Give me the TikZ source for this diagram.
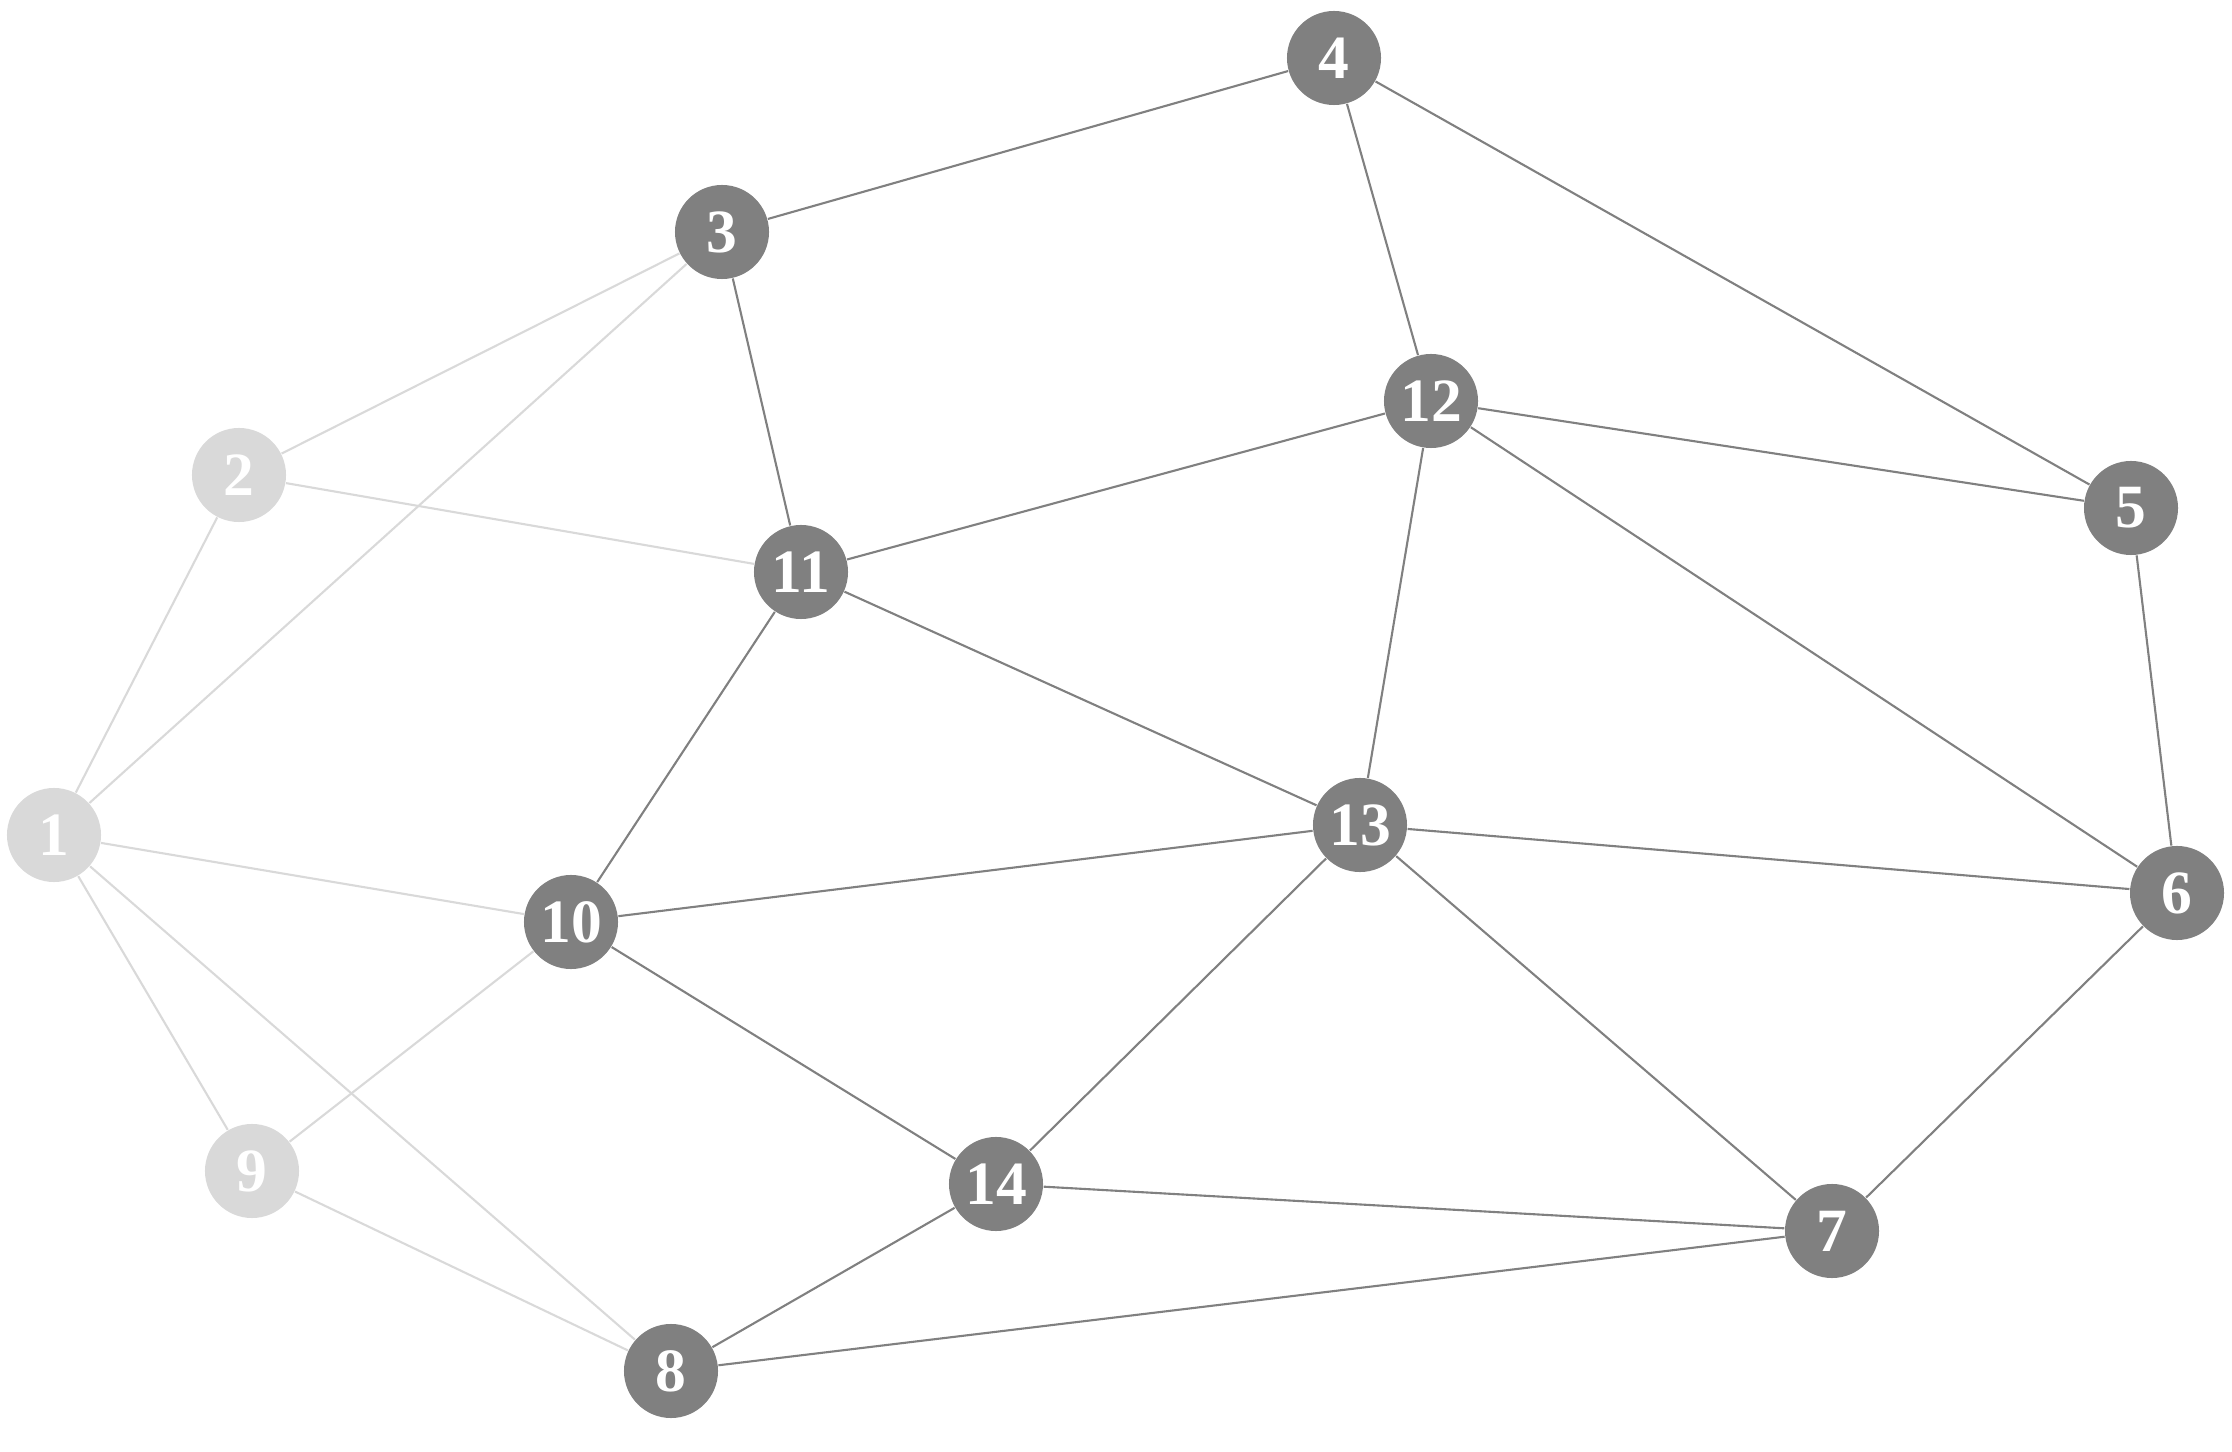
\documentclass[tikz,border=0pt]{standalone}
\usepackage{fontspec}
\setmainfont{Liberation Serif}
\definecolor{darknode}{HTML}{808080}
\definecolor{lightnode}{HTML}{D9D9D9}
\tikzset{
  vdark/.style={circle, fill=darknode, draw=none, minimum size=0.94cm, inner sep=0pt, text=white, font=\fontsize{17.5}{17.5}\selectfont\bfseries},
  vlight/.style={vdark, fill=lightnode},
  edark/.style={draw=darknode, line width=0.6pt},
  elight/.style={draw=lightnode, line width=0.6pt},
}
\begin{document}
\begin{tikzpicture}[x=0.01cm, y=-0.01cm]
\useasboundingbox (0,0) rectangle (2232,1452);
\node[vlight] (n1) at (54,835) {1};
\node[vlight] (n2) at (239,475) {2};
\node[vdark] (n3) at (722,232) {3};
\node[vdark] (n4) at (1334,58) {4};
\node[vdark] (n5) at (2131,508) {5};
\node[vdark] (n6) at (2177,893) {6};
\node[vdark] (n7) at (1832,1231) {7};
\node[vdark] (n8) at (671,1371) {8};
\node[vlight] (n9) at (252,1171) {9};
\node[vdark] (n10) at (571,922) {10};
\node[vdark] (n11) at (801,572) {11};
\node[vdark] (n12) at (1431,401) {12};
\node[vdark] (n13) at (1360,825) {13};
\node[vdark] (n14) at (996,1184) {14};
\draw[elight] (n1) -- (n2);
\draw[elight] (n1) -- (n3);
\draw[elight] (n1) -- (n10);
\draw[elight] (n1) -- (n9);
\draw[elight] (n1) -- (n8);
\draw[elight] (n2) -- (n3);
\draw[elight] (n2) -- (n11);
\draw[elight] (n9) -- (n10);
\draw[elight] (n9) -- (n8);
\draw[edark] (n3) -- (n4);
\draw[edark] (n3) -- (n11);
\draw[edark] (n4) -- (n12);
\draw[edark] (n4) -- (n5);
\draw[edark] (n12) -- (n11);
\draw[edark] (n12) -- (n5);
\draw[edark] (n12) -- (n13);
\draw[edark] (n12) -- (n6);
\draw[edark] (n11) -- (n10);
\draw[edark] (n11) -- (n13);
\draw[edark] (n13) -- (n10);
\draw[edark] (n13) -- (n6);
\draw[edark] (n13) -- (n14);
\draw[edark] (n13) -- (n7);
\draw[edark] (n10) -- (n14);
\draw[edark] (n14) -- (n7);
\draw[edark] (n14) -- (n8);
\draw[edark] (n8) -- (n7);
\draw[edark] (n5) -- (n6);
\draw[edark] (n6) -- (n7);
\end{tikzpicture}
\end{document}
